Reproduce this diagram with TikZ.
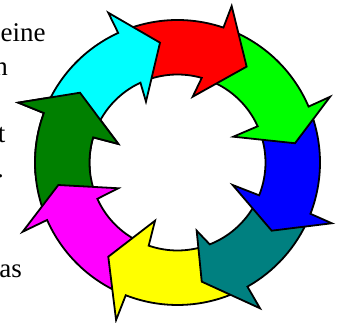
\documentclass[tikz,border=0pt]{standalone}
\usepackage{fontspec}
\setmainfont{Liberation Serif}
\definecolor{cRed}{RGB}{255,0,0}
\definecolor{cGreen}{RGB}{0,255,0}
\definecolor{cBlue}{RGB}{0,0,255}
\definecolor{cTeal}{RGB}{0,128,128}
\definecolor{cYellow}{RGB}{255,255,0}
\definecolor{cMagenta}{RGB}{255,0,255}
\definecolor{cDkGreen}{RGB}{0,128,0}
\definecolor{cCyan}{RGB}{0,255,255}
\def\Ro{142.5}
\def\Ri{88}
% #1 colour, #2 tail outer angle, #3 tail inner angle, #4 inner notch angle,
% #5 inner barb, #6 tip, #7 outer barb, #8 outer notch angle
\newcommand{\ringarrow}[8]{%
  \filldraw[arrowstyle, fill=#1] (#2:\Ro) -- (#3:\Ri)
    arc[start angle=#3, end angle=#4, radius=\Ri pt] -- #5 -- #6 -- #7 -- (#8:\Ro)
    arc[start angle=#8, end angle=#2, radius=\Ro pt] -- cycle;}
\begin{document}
\begin{tikzpicture}[x=1pt,y=1pt,
  arrowstyle/.style={draw=black, line width=1.8pt, line join=miter},
  txt/.style={font=\fontsize{27}{27}\selectfont, inner sep=0pt}]
\useasboundingbox (-177.5,-160.5) rectangle (163.5,162.5);
\clip (-177.5,-160.5) rectangle (163.5,162.5);
% cut-off paragraph text at the left
\node[txt, anchor=base west] (t1) at (-177,120.5) {eine};
\node[txt, anchor=base east] (t2) at (-169.5,86.5) {n};
\node[txt, anchor=base east] (t3) at (-172,19.5) {t};
\node[txt, anchor=base east] (t4) at (-173.5,-15.5) {.};
\node[txt, anchor=base east] (t5) at (-155.5,-115.5) {as};
% ring of arrows
\ringarrow{cDkGreen}{201.8}{202.4}{163.4}{(162.6:62)}{(144.4:119.9)}{(159.4:170.1)}{159.7}
\ringarrow{cMagenta}{-113.3}{-111.1}{-155.6}{(-156.5:64.6)}{(-169.3:121.3)}{(-155.9:169.6)}{-156.2}
\ringarrow{cYellow}{-62.6}{-70.5}{-109.1}{(-111.1:62.4)}{(-126.3:116.9)}{(-111.3:169.1)}{-111.3}
\ringarrow{cTeal}{-23.1}{-23.9}{-68.5}{(-74.3:70.8)}{(-78.5:121.6)}{(-60.5:167.5)}{-60.6}
\ringarrow{cBlue}{21.1}{22.3}{-21.9}{(-22.2:59.6)}{(-35.9:116.3)}{(-21.5:165.8)}{-21.1}
\ringarrow{cGreen}{69.2}{72}{24.3}{(24.8:61.5)}{(9.3:119.1)}{(23.3:166.1)}{23.1}
\ringarrow{cRed}{112.6}{112.9}{74}{(77:67.5)}{(54.2:118.2)}{(70.9:165.6)}{71.2}
\ringarrow{cCyan}{157.7}{161.4}{114.9}{(117.4:68.5)}{(98.3:121.1)}{(114.8:165)}{114.6}
% dark green head lies over the cyan tail
\begin{scope}
  \clip (0,0) -- (135:230) arc[start angle=135, end angle=185, radius=230pt] -- cycle;
  \ringarrow{cDkGreen}{201.8}{202.4}{163.4}{(162.6:62)}{(144.4:119.9)}{(159.4:170.1)}{159.7}
\end{scope}
\end{tikzpicture}
\end{document}
